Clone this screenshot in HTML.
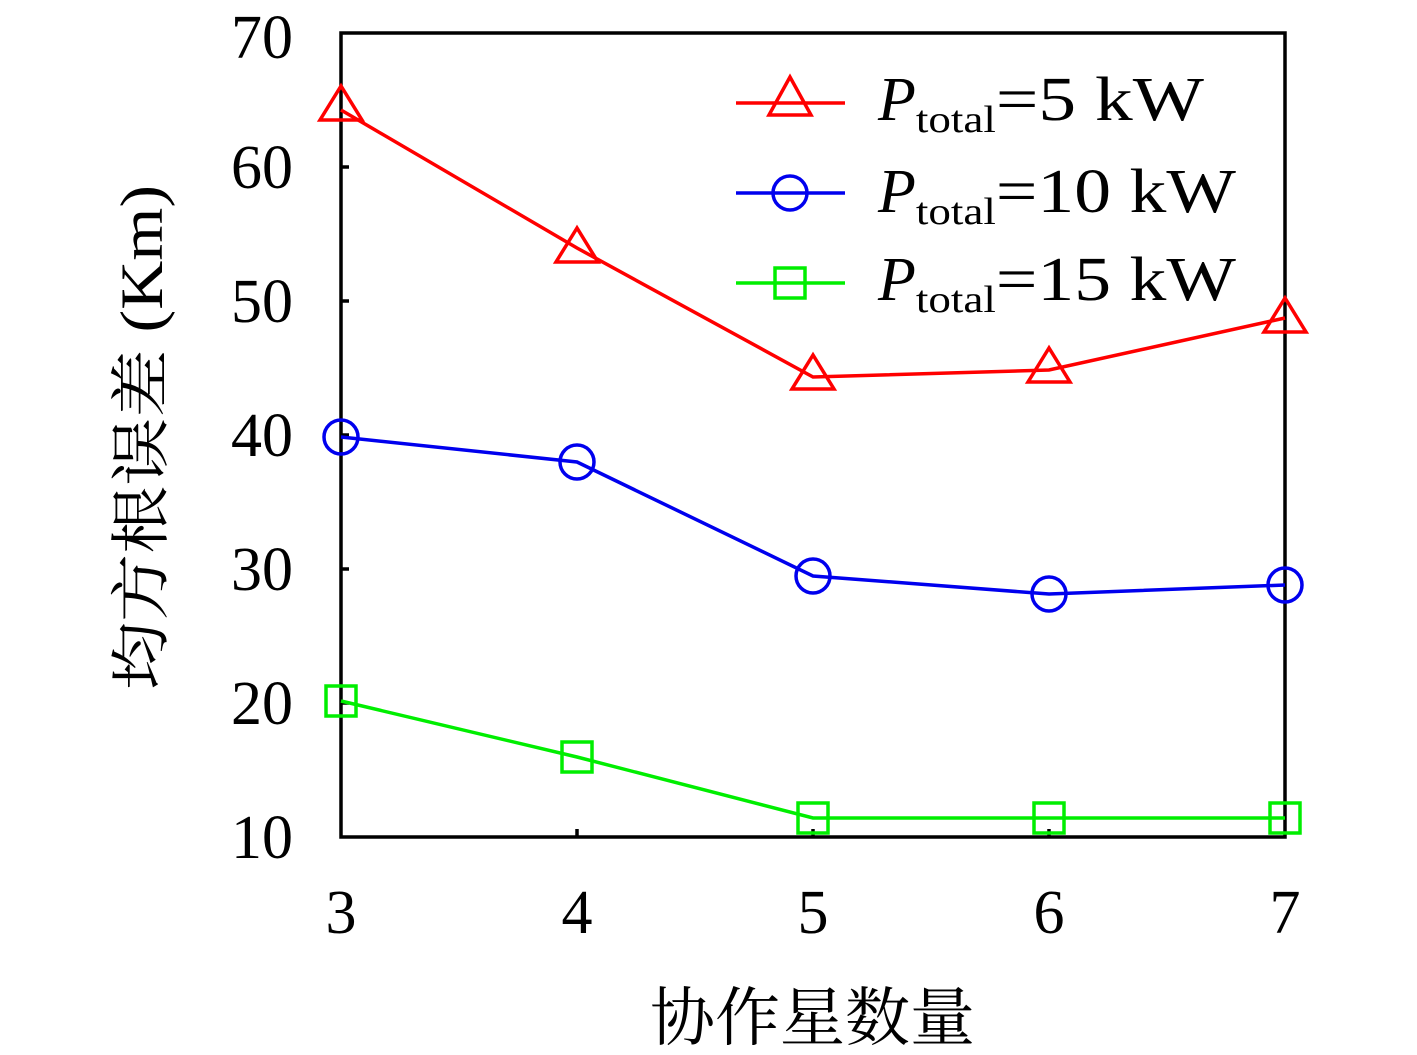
<!DOCTYPE html>
<html><head><meta charset="utf-8"><style>html,body{margin:0;padding:0;background:#fff}</style></head>
<body>
<svg width="1417" height="1050" viewBox="0 0 1417 1050" xmlns="http://www.w3.org/2000/svg" font-family="'Liberation Serif','Noto Serif CJK SC',serif">
<rect width="1417" height="1050" fill="#fff"/>
<g stroke="#000" stroke-width="3.5">
<rect x="341" y="33" width="944" height="804" fill="none"/>
<line x1="577" y1="837" x2="577" y2="829"/><line x1="813" y1="837" x2="813" y2="829"/><line x1="1049" y1="837" x2="1049" y2="829"/>
<line x1="341" y1="703" x2="349" y2="703"/><line x1="341" y1="569" x2="349" y2="569"/><line x1="341" y1="435" x2="349" y2="435"/><line x1="341" y1="301" x2="349" y2="301"/><line x1="341" y1="167" x2="349" y2="167"/>
</g>
<g font-size="62" text-anchor="end" fill="#000">
<text x="293" y="858">10</text><text x="293" y="724">20</text><text x="293" y="590">30</text><text x="293" y="456">40</text><text x="293" y="322">50</text><text x="293" y="188">60</text><text x="293" y="58">70</text>
</g>
<g font-size="62" text-anchor="middle" fill="#000">
<text x="341" y="933">3</text><text x="577" y="933">4</text><text x="813" y="933">5</text><text x="1049" y="933">6</text><text x="1285" y="933">7</text>
</g>
<text x="650" y="1040" font-size="64" textLength="325" lengthAdjust="spacingAndGlyphs" font-family="'Noto Serif CJK SC','Noto Sans CJK SC',serif">协作星数量</text>
<text transform="translate(162,690) rotate(-90)" font-size="60" textLength="505" lengthAdjust="spacingAndGlyphs" font-family="'Liberation Serif','Noto Serif CJK SC',serif">均方根误差 (Km)</text>
<g fill="none" stroke-width="3.5">
<polyline stroke="#ff0000" points="341,110 577,248 813,377 1049,370 1285,318"/>
<g stroke="#ff0000">
<polygon points="341,86 320,120 362,120"/><polygon points="577,228 556,262 598,262"/><polygon points="813,355 792,389 834,389"/><polygon points="1049,348 1028,382 1070,382"/><polygon points="1285,298 1264,332 1306,332"/>
</g>
<polyline stroke="#0000ee" points="341,437 577,462 813,576 1049,594 1285,585"/>
<g stroke="#0000ee">
<circle cx="341" cy="437" r="17"/><circle cx="577" cy="462" r="17"/><circle cx="813" cy="576" r="17"/><circle cx="1049" cy="594" r="17"/><circle cx="1285" cy="585" r="17"/>
</g>
<polyline stroke="#00ee00" points="341,701 577,757 813,818 1049,818 1285,818"/>
<g stroke="#00ee00">
<rect x="326" y="686" width="30" height="30"/><rect x="562" y="742" width="30" height="30"/><rect x="798" y="803" width="30" height="30"/><rect x="1034" y="803" width="30" height="30"/><rect x="1270" y="803" width="30" height="30"/>
</g>
<line x1="736" y1="103" x2="845" y2="103" stroke="#ff0000"/><polygon points="790,77 769,115 811,115" stroke="#ff0000"/>
<line x1="736" y1="193" x2="845" y2="193" stroke="#0000ee"/><circle cx="790" cy="193" r="17" stroke="#0000ee"/>
<line x1="736" y1="283" x2="845" y2="283" stroke="#00ee00"/><rect x="775" y="268" width="30" height="30" stroke="#00ee00"/>
</g>
<g font-size="62" fill="#000">
<text x="878" y="120"><tspan font-style="italic">P</tspan><tspan font-size="38" dy="12" textLength="80" lengthAdjust="spacingAndGlyphs">total</tspan><tspan dy="-12" textLength="208" lengthAdjust="spacingAndGlyphs">=5 kW</tspan></text>
<text x="878" y="212"><tspan font-style="italic">P</tspan><tspan font-size="38" dy="12" textLength="80" lengthAdjust="spacingAndGlyphs">total</tspan><tspan dy="-12" textLength="240" lengthAdjust="spacingAndGlyphs">=10 kW</tspan></text>
<text x="878" y="300"><tspan font-style="italic">P</tspan><tspan font-size="38" dy="12" textLength="80" lengthAdjust="spacingAndGlyphs">total</tspan><tspan dy="-12" textLength="240" lengthAdjust="spacingAndGlyphs">=15 kW</tspan></text>
</g>
</svg>
</body></html>
